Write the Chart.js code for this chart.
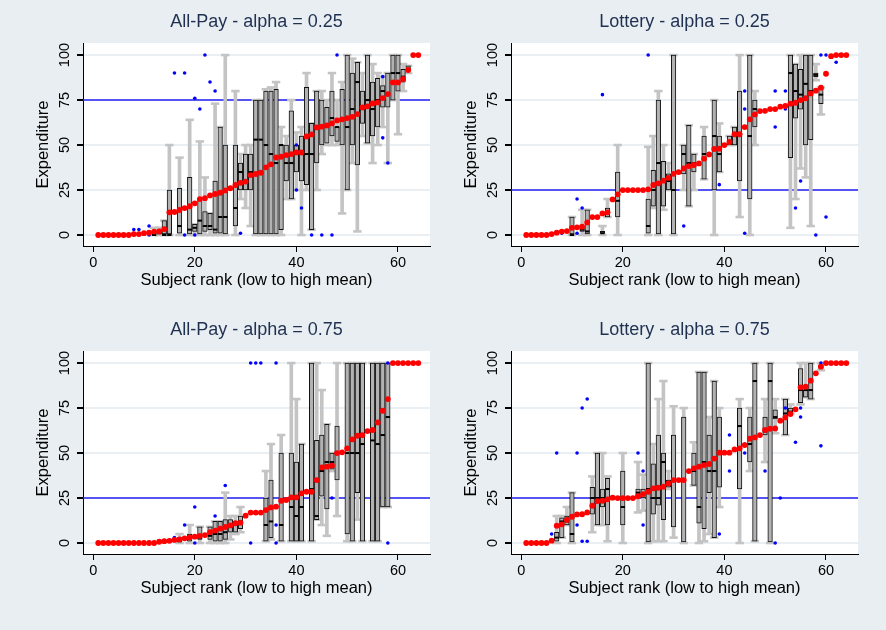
<!DOCTYPE html>
<html>
<head>
<meta charset="utf-8">
<script src="https://cdn.jsdelivr.net/npm/chart.js@4.4.0/dist/chart.umd.min.js"></script>
<style>
  body { margin: 0; background: #e8eef2; }
  #wrap { position: relative; width: 886px; height: 630px; overflow: hidden; }
  .panel { position: absolute; width: 443px; height: 315px; }
</style>
</head>
<body>
<div id="wrap">
  <div class="panel" style="left:0;top:0"><canvas id="c1" width="443" height="315"></canvas></div>
  <div class="panel" style="left:428px;top:0"><canvas id="c2" width="443" height="315"></canvas></div>
  <div class="panel" style="left:0;top:308px"><canvas id="c3" width="443" height="315"></canvas></div>
  <div class="panel" style="left:428px;top:308px"><canvas id="c4" width="443" height="315"></canvas></div>
</div>
<script>
// tick labels
const xTicks = [0, 20, 40, 60];
const yTicks = [0, 25, 50, 75, 100];

const titles = ['All-Pay - alpha = 0.25', 'Lottery - alpha = 0.25', 'All-Pay - alpha = 0.75', 'Lottery - alpha = 0.75'];
const refLevels = [75, 25, 25, 25];

// mean expenditure by subject rank (1..64)
const meanAP25 = [0,0,0,0,0,0,0,0.5,0.5,1,1.3,1.9,2,3.3,12.6,12.8,13.9,15,16,17.6,20,20.5,22,22.8,
  23.5,24.8,26,27.8,29,29.7,33.3,33.9,34.6,37.6,39.3,43.1,43.5,44.4,45,45.9,45.9,54.8,55.9,59.8,
  60.2,60.9,62,63.7,64.3,65,65.7,67.2,70.9,71.5,73.1,73.7,76.1,78.3,84.8,84.8,86.7,91.7,100,100];
const meanLO25 = [0,0,0,0,0,0.5,1.3,1.9,2.2,4,4.3,4.6,7,10,10,12,12.6,19.8,22.6,25,25,25,25,25,
  25.4,27.8,28.7,30.2,31.7,34,35,37,38.3,38.9,39.8,42.4,44.8,47.8,48,50,51.7,56,56,60,64.3,67,
  68.9,69,70,70,71.3,71.7,73,73.5,75,76,78.7,80.2,81.9,89.6,99.4,100,100,100];
const meanAP75 = [0,0,0,0,0,0,0,0,0,0,0,0,0.7,1,1.2,1.7,2,2.6,3.1,3.5,4,4.4,6,6.9,8,8.9,9.8,11,
  11.3,15.2,16.9,16.9,16.9,18.3,19.8,20.2,23.5,23.9,25.4,25.4,27.6,28.5,28.5,35,42,42.4,43,50,
  50.4,52.6,57.6,59.6,60,62.2,62.8,67,73.5,80,100,100,100,100,100,100];
const meanLO75 = [0,0,0,0,0,1.3,9.6,10.4,12.8,14.6,15.9,16,17,20.7,23.3,23.5,24.3,25.2,25,25,25,
  25,26,27.2,28.5,30.4,30.7,31.3,33.1,35,35,35,40,41.5,42.4,43.3,43.9,46.9,50.2,50.2,50.2,52,
  52.6,54.4,58,58.7,60,62.8,63.5,63.7,68,69.8,71.7,74.3,86.5,86.9,90.2,94.3,98,100,100,100,100,100];

// box rows: [rank, whisker low, q1, median, q3, whisker high]
const boxAP25 = [
  [12,0,0,0,2,4],[13,0,0,1,3,4],[14,0,0,0,8,8],[15,0,0,0,25,50],[17,0,1,5,26,43],[19,0,0,3,32,64],
  [20,0,2,4,6,6],[21,0,0,8,20,52],[22,0,2,5,13,32],[23,0,3,5,12,12],[24,0,1,3,30,73],[25,0,1,10,60,60],
  [26,0,0,10,50,100],[28,0,5,15,50,80],[29,20,25,35,40,45],[30,15,25,30,45,50],[31,5,25,35,45,50],
  [32,0,0,53,75,75],[33,0,0,53,75,75],[34,0,0,50,80,81],[35,0,0,45,80,82],[36,0,0,40,81,85],
  [37,0,3,50,50,60],[38,20,30,40,50,55],[39,20,20,40,69,75],[40,25,35,45,50,57],[41,0,30,45,55,60],
  [42,25,28,45,82,90],[43,3,3,45,62,62],[44,25,40,60,80,80],[45,45,50,60,75,80],[46,50,51,60,71,75],
  [47,50,55,65,80,90],[48,50,52,60,60,75],[49,12,50,65,81,85],[50,25,25,60,100,100],[51,40,50,70,90,98],
  [52,2,39,85,96,96],[53,55,62,70,80,90],[54,51,51,75,100,100],[55,40,55,70,85,95],[56,50,60,75,87,90],
  [57,60,71,80,83,88],[58,40,71,78,90,90],[59,75,75,90,100,100],[60,56,80,90,100,100],
  [61,80,85,88,92,95],[62,90,91,92,94,94]
];
const boxLO25 = [
  [10,0,0,0,10,10],[12,0,2,3,4,14],[13,0,0,2,14,14],[16,0,1,1,2,5],[17,10,10,12,15,20],
  [19,0,10,19,35,50],[25,0,1,5,20,49],[26,15,16,25,36,55],[27,0,0,40,75,80],[28,14,16,30,41,50],
  [29,25,25,30,34,40],[30,0,0,25,100,100],[32,25,34,45,50,50],[33,16,16,40,61,61],[34,25,35,40,45,45],
  [36,31,31,45,55,60],[38,0,25,55,75,75],[39,35,35,45,55,62],[41,50,50,52,55,55],[42,50,50,55,60,60],
  [43,10,30,55,80,100],[45,0,20,55,100,100],[46,50,60,70,75,80],[53,4,43,90,100,100],
  [54,20,65,80,95,95],[55,37,70,78,92,100],[56,32,50,84,100,100],[57,5,53,80,100,100],
  [58,86,88,89,90,95],[59,67,73,78,82,82]
];
const boxAP75 = [
  [17,0,0,1,3,5],[19,0,1,3,5,10],[21,0,2,3,9,9],[23,0,2,4,9,9],[24,0,1,5,12,12],[25,0,1,5,12,12],
  [26,0,2,6,13,28],[27,2,6,10,13,15],[28,5,6,10,12,15],[29,6,8,12,15,20],[34,1,1,10,25,40],
  [35,2,3,12,35,55],[37,1,1,10,50,60],[39,1,1,20,50,100],[40,1,1,15,45,80],[41,1,1,20,55,55],
  [43,1,1,30,100,100],[44,13,13,15,57,100],[45,10,26,40,60,85],[46,4,19,45,66,66],[47,40,41,45,50,50],
  [48,15,35,50,65,100],[50,1,5,50,100,100],[51,1,1,50,100,100],[52,13,28,50,100,100],
  [53,1,1,55,100,100],[55,1,1,57,100,100],[56,1,1,55,100,100],[57,20,20,60,100,100],[58,20,20,70,100,100]
];
const boxLO75 = [
  [7,0,1,3,6,15],[8,3,3,12,14,15],[9,10,10,12,15,20],[10,0,0,5,28,28],[14,6,16,25,31,37],
  [15,10,10,25,50,50],[16,10,20,25,30,50],[17,1,10,30,36,37],[20,0,10,20,40,50],[23,17,25,28,30,45],
  [24,18,25,27,30,38],[25,0,0,30,100,100],[26,1,16,25,44,55],[27,1,21,25,60,80],[28,1,13,45,50,90],
  [29,30,31,33,35,40],[30,3,9,35,60,76],[32,0,0,35,70,75],[34,32,32,40,50,56],[35,0,11,20,95,95],
  [36,1,8,45,95,95],[37,5,28,40,60,70],[38,3,3,40,90,90],[39,20,31,50,70,75],[43,0,30,65,75,80],
  [45,40,45,55,70,75],[46,1,1,90,100,100],[48,45,60,62,70,80],[49,0,0,90,100,100],[50,61,69,70,74,80],
  [52,60,60,72,80,80],[53,72,72,73,75,77],[55,77,78,85,97,100],[56,81,81,85,85,100],
  [57,80,80,85,100,100],[59,96,97,98,99,100]
];

// outside values: [rank, value]
const outAP25 = [[8,3],[9,3],[11,5],[11,0],[16,90],[18,90],[18,0],[20,76],[20,0],[21,70],[22,100],
  [23,85],[24,80],[29,1],[40,50],[40,25],[41,15],[43,0],[45,0],[47,0],[48,100],[57,88],[57,54],[58,40]];
const outLO25 = [[8,1],[11,20],[11,1],[12,15],[16,78],[25,100],[32,5],[39,28],[44,80],[44,70],[44,1],
  [50,80],[50,60],[52,80],[52,70],[54,15],[55,30],[58,0],[60,10],[59,100],[60,100],[62,96]];
const outAP75 = [[16,3],[18,10],[20,20],[20,0],[24,15],[26,32],[31,0],[31,100],[32,100],[33,100],
  [36,100],[36,10],[36,0],[47,25],[58,100],[58,0]];
const outLO75 = [[6,5],[7,50],[11,50],[11,10],[12,75],[12,1],[13,80],[13,1],[23,50],[24,40],[24,10],
  [39,5],[41,60],[41,40],[44,55],[44,50],[48,40],[50,0],[51,25],[52,75],[54,56],[55,75],[55,70],
  [59,54],[59,100]];

const FONT = "'Liberation Sans', Arial, sans-serif";

// white plot region
const plotBg = {
  id: 'plotBg',
  beforeDraw(chart) {
    const { ctx, chartArea: a } = chart;
    ctx.save();
    ctx.fillStyle = '#ffffff';
    ctx.fillRect(a.left, a.top, a.width, a.height);
    ctx.restore();
  }
};

function makePanel(id, title, means, boxes, outs, ref) {
  const gray = '#c4c4c4';
  new Chart(document.getElementById(id), {
    type: 'bar',
    data: {
      datasets: [
        { type: 'scatter', data: means.map((v, i) => ({ x: i + 1, y: v })),
          backgroundColor: '#ff0000', borderColor: '#ff0000', pointRadius: 2.9, borderWidth: 0, order: 0 },
        { type: 'scatter', data: outs.map(o => ({ x: o[0], y: o[1] })),
          backgroundColor: '#0000ff', borderColor: '#0000ff', pointRadius: 1.8, borderWidth: 0, order: 1 },
        { type: 'scatter', data: boxes.map(b => ({ x: b[0], y: b[3] })),
          pointStyle: 'line', pointRadius: 2.2, borderColor: '#000000', borderWidth: 2, order: 2 },
        { type: 'bar', data: boxes.map(b => ({ x: b[0], y: [b[2], b[4]] })),
          backgroundColor: '#b2b2b2', borderColor: '#111111', borderWidth: 1, borderSkipped: false,
          grouped: false, barPercentage: 1, categoryPercentage: 1, maxBarThickness: 4.6, order: 3 },
        { type: 'scatter', data: boxes.flatMap(b => [{ x: b[0], y: b[1] }, { x: b[0], y: b[5] }]),
          pointStyle: 'line', pointRadius: 4.2, borderColor: gray, borderWidth: 2.6, order: 4 },
        { type: 'bar', data: boxes.map(b => ({ x: b[0], y: [b[1], b[5]] })),
          backgroundColor: gray, borderWidth: 0, grouped: false,
          barPercentage: 1, categoryPercentage: 1, maxBarThickness: 3, order: 5 },
        { type: 'line', data: [{ x: -2, y: ref }, { x: 66.3, y: ref }],
          borderColor: '#2020f0', borderWidth: 1.6, pointRadius: 0, order: 6 }
      ]
    },
    options: {
      responsive: false,
      animation: false,
      events: [],
      layout: { padding: { left: 0, top: 0, right: 13, bottom: 0 } },
      plugins: {
        legend: { display: false },
        tooltip: { enabled: false },
        title: {
          display: true, text: title, fullSize: false, color: '#1f3050',
          font: { family: FONT, size: 18, weight: 'normal' },
          padding: { top: 11, bottom: 10.4 }
        }
      },
      scales: {
        x: {
          type: 'linear', min: -2, max: 66.3, offset: false,
          afterBuildTicks: s => { s.ticks = xTicks.map(v => ({ value: v })); },
          afterFit: s => { s.height = 69; },
          grid: { drawOnChartArea: false, drawTicks: true, tickLength: 6, tickColor: '#000', offset: false },
          border: { display: true, color: '#000', width: 1 },
          ticks: { color: '#000', font: { family: FONT, size: 14.5 }, padding: 2, maxRotation: 0, autoSkip: false },
          title: { display: true, text: 'Subject rank (low to high mean)', color: '#000',
                   font: { family: FONT, size: 16.5 }, padding: { top: 0, bottom: 24.6 } }
        },
        y: {
          type: 'linear', min: -6.1, max: 106.7,
          afterBuildTicks: s => { s.ticks = yTicks.map(v => ({ value: v })); },
          afterFit: s => { s.width = 83; },
          grid: { color: '#e9eff3', lineWidth: 2, drawTicks: true, tickLength: 6, tickColor: '#000' },
          border: { display: true, color: '#000', width: 1 },
          ticks: { color: '#000', font: { family: FONT, size: 14.5 }, padding: 0,
                   minRotation: 90, maxRotation: 90, crossAlign: 'center' },
          title: { display: true, text: 'Expenditure', color: '#000',
                   font: { family: FONT, size: 16.5 }, padding: { top: 34, bottom: 0 } }
        }
      }
    },
    plugins: [plotBg]
  });
}

makePanel('c1', titles[0], meanAP25, boxAP25, outAP25, refLevels[0]);
makePanel('c2', titles[1], meanLO25, boxLO25, outLO25, refLevels[1]);
makePanel('c3', titles[2], meanAP75, boxAP75, outAP75, refLevels[2]);
makePanel('c4', titles[3], meanLO75, boxLO75, outLO75, refLevels[3]);
</script>
</body>
</html>
